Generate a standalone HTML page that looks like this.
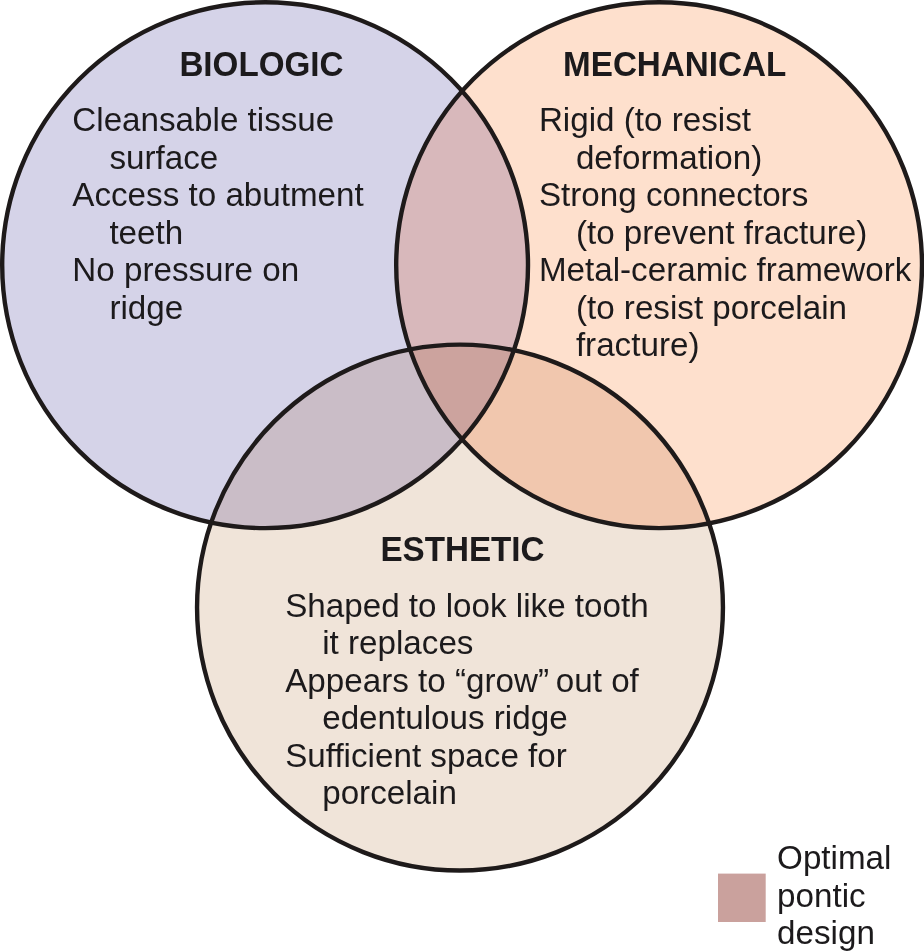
<!DOCTYPE html>
<html>
<head>
<meta charset="utf-8">
<style>
html,body{margin:0;padding:0;background:#ffffff;width:924px;height:952px;overflow:hidden;}
svg{display:block;will-change:transform;}
text{font-family:"Liberation Sans", sans-serif;fill:#1c1a1c;}
.h{font-weight:bold;font-size:33.2px;}
.b{font-size:33.2px;}
</style>
</head>
<body>
<svg width="924" height="952" viewBox="0 0 924 952">
<defs>
<clipPath id="cL"><circle cx="265.1" cy="265.2" r="262.9"/></clipPath>
<clipPath id="cR"><circle cx="659.1" cy="265.2" r="262.9"/></clipPath>
<clipPath id="cLR"><circle cx="659.1" cy="265.2" r="262.9" clip-path="url(#cL)"/></clipPath>
</defs>
<rect width="924" height="952" fill="#ffffff"/>
<circle cx="265.1" cy="265.2" r="262.9" fill="#d5d3e8"/>
<circle cx="659.1" cy="265.2" r="262.9" fill="#fee0cd"/>
<circle cx="460.0" cy="607.6" r="262.95" fill="#f0e4d9"/>
<circle cx="659.1" cy="265.2" r="262.9" fill="#d8b8bb" clip-path="url(#cL)"/>
<circle cx="460.0" cy="607.6" r="262.95" fill="#cabdc7" clip-path="url(#cL)"/>
<circle cx="460.0" cy="607.6" r="262.95" fill="#f1c7ae" clip-path="url(#cR)"/>
<circle cx="460.0" cy="607.6" r="262.95" fill="#cca39e" clip-path="url(#cLR)"/>
<g fill="none" stroke="#1e1a1a" stroke-width="4.4">
<circle cx="265.1" cy="265.2" r="262.9"/>
<circle cx="659.1" cy="265.2" r="262.9"/>
<circle cx="460.0" cy="607.6" r="262.95"/>
</g>
<rect x="718" y="873.6" width="47.7" height="48.4" fill="#caa19d"/>
<g class="h">
<text transform="translate(179.4 76) scale(1 1.04)">BIOLOGIC</text>
<text transform="translate(563.1 76) scale(1 1.04)">MECHANICAL</text>
<text transform="translate(380.4 560.8) scale(1 1.04)">ESTHETIC</text>
</g>
<text class="b" x="72.3" y="131.2">Cleansable tissue</text>
<text class="b" x="109.4" y="168.7">surface</text>
<text class="b" x="72.3" y="206.2">Access to abutment</text>
<text class="b" x="109.4" y="243.7">teeth</text>
<text class="b" x="72.3" y="281.2">No pressure on</text>
<text class="b" x="109.4" y="318.7">ridge</text>
<text class="b" x="538.9" y="131.2">Rigid (to resist</text>
<text class="b" x="575.9" y="168.7">deformation)</text>
<text class="b" x="538.9" y="206.2">Strong connectors</text>
<text class="b" x="575.9" y="243.7">(to prevent fracture)</text>
<text class="b" x="538.9" y="281.2">Metal-ceramic framework</text>
<text class="b" x="575.9" y="318.7">(to resist porcelain</text>
<text class="b" x="575.9" y="356.2">fracture)</text>
<text class="b" x="285.2" y="616.8">Shaped to look like tooth</text>
<text class="b" x="322.2" y="654.3">it replaces</text>
<text class="b" x="285.2" y="691.8">Appears to “grow”<tspan dx="-2.4"> out of</tspan></text>
<text class="b" x="322.2" y="729.3">edentulous ridge</text>
<text class="b" x="285.2" y="766.8">Sufficient space for</text>
<text class="b" x="322.2" y="804.3">porcelain</text>
<text class="b" x="777.1" y="869.2">Optimal</text>
<text class="b" x="777.1" y="906.7">pontic</text>
<text class="b" x="777.1" y="944.2">design</text>
</svg>
</body>
</html>
